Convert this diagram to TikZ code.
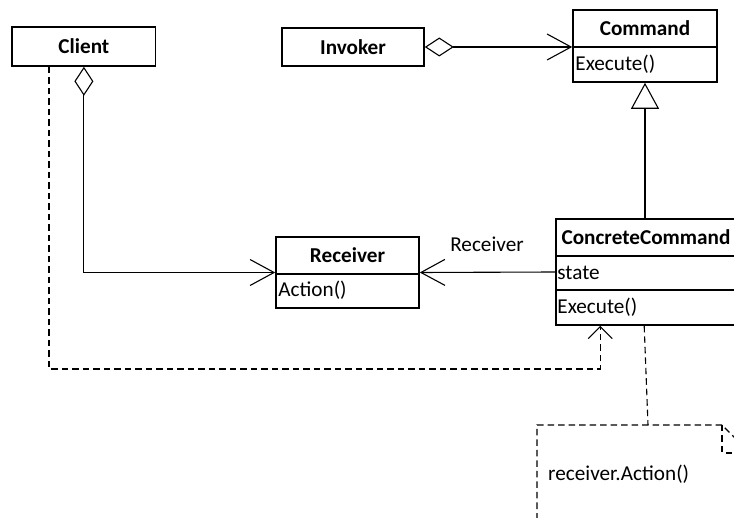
\documentclass[tikz,border=0pt]{standalone}
\usepackage{fontspec}
\setmainfont{Carlito}
\usetikzlibrary{arrows.meta,calc}

\begin{document}
\begin{tikzpicture}[x=1pt,y=-1pt,
  box/.style={draw, line width=1.6pt, inner sep=0pt},
  divider/.style={line width=1.4pt},
  title/.style={font=\fontsize{21.2}{25}\selectfont\bfseries, inner sep=0pt},
  member/.style={font=\fontsize{21.2}{25}\selectfont, inner sep=0pt, anchor=west},
  conn/.style={line width=1.1pt},
  barb/.style={-{Straight Barb[length=24pt,width=26pt,line width=1.1pt]}},
  agg/.style={conn, {Diamond[open,length=29pt,width=19pt,line width=1.1pt]}-{Straight Barb[length=24pt,width=26pt,line width=1.1pt]}},
  inherit/.style={conn, -{Triangle[open,length=26pt,width=28pt,line width=1.1pt]}},
  dep/.style={conn, dash pattern=on 6.5pt off 4pt, -{Straight Barb[length=12pt,width=24pt,line width=1.1pt]}},
  notedash/.style={conn, dash pattern=on 6.5pt off 4pt}]

\fill[white] (0,0) rectangle (734,518);
\useasboundingbox (0,0) rectangle (734,518);
\clip (0,0) rectangle (734,518);

% Client
\node[box, minimum width=143.5pt, minimum height=39pt] (client) at (83.9,46.5) {};
\node[title] (clientname) at (client.center) {Client};

% Invoker
\node[box, minimum width=142pt, minimum height=38pt] (invoker) at (353,47) {};
\node[title] (invokername) at (invoker.center) {Invoker};

% Command
\node[box, minimum width=144pt, minimum height=72pt] (command) at (645,46) {};
\draw[divider] ($(command.north west)+(0,37.7)$) -- ($(command.north east)+(0,37.7)$);
\node[title] (commandname) at ($(command.north)+(0,18.8)$) {Command};
\node[member] (commandop) at ($(command.north west)+(3,55)$) {Execute()};

% Receiver
\node[box, minimum width=143pt, minimum height=71pt] (receiver) at (347.5,272.5) {};
\draw[divider] ($(receiver.north west)+(0,38)$) -- ($(receiver.north east)+(0,38)$);
\node[title] (receivername) at ($(receiver.north)+(0,19)$) {Receiver};
\node[member] (receiverop) at ($(receiver.north west)+(3,54.5)$) {Action()};

% ConcreteCommand
\node[box, minimum width=180pt, minimum height=106pt] (cc) at (646,272) {};
\draw[divider] ($(cc.north west)+(0,38)$) -- ($(cc.north east)+(0,38)$);
\draw[divider] ($(cc.north west)+(0,72)$) -- ($(cc.north east)+(0,72)$);
\node[title] (ccname) at ($(cc.north)+(0,19)$) {ConcreteCommand};
\node[member] (ccstate) at ($(cc.north west)+(2,55)$) {state};
\node[member] (ccop) at ($(cc.north west)+(2,89)$) {Execute()};

% Associations
\draw[agg] (invoker.east) -- (invoker.east -| command.west);
\draw[agg] (client.south) |- (receiver.west);
\draw[conn, barb] (cc.west) -- (receiver.east);
\node[member, anchor=center] (rolelabel) at (487,244) {Receiver};

% Generalization
\draw[inherit] (command.south |- cc.north) -- (command.south);

% Dependency from Client
\coordinate (depcorner) at (49,369);
\coordinate (depend) at ($(cc.south west)+(45,0)$);
\draw[dep] (client.south -| depcorner) |- (depend |- depcorner) -- (depend);

% Note attached to ConcreteCommand
\coordinate (notestart) at ($(cc.south west)+(89,0)$);
\coordinate (notetop) at (648,425);
\draw[notedash] (notestart) -- (notetop);
\draw[notedash] (537,530) -- (537,425) -- (722,425) -- (752,455) -- (752,530);
\draw[notedash] (722,425) -- (722,453) -- (752,453);
\node[member] (notetext) at (548,474) {receiver.Action()};

\end{tikzpicture}
\end{document}
